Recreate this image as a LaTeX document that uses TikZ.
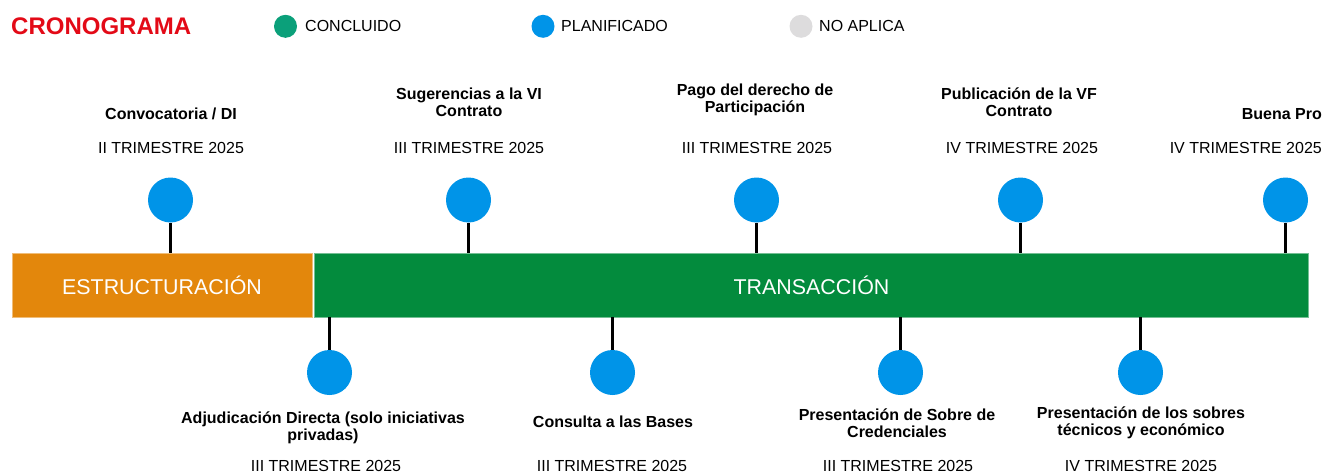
\documentclass[tikz,border=0pt]{standalone}
\usepackage{fontspec}
\setmainfont{Liberation Sans}
\definecolor{titlered}{HTML}{E30A17}
\definecolor{done}{HTML}{0BA07A}
\definecolor{plan}{HTML}{0094E8}
\definecolor{na}{HTML}{DDDCDD}
\definecolor{orangebar}{HTML}{E3870C}
\definecolor{greenbar}{HTML}{038B3D}
\begin{document}
\begin{tikzpicture}[x=1pt,y=-1pt,
  milestone/.style={circle, fill=plan, minimum size=45pt, inner sep=0pt},
  legdot/.style={circle, minimum size=23pt, inner sep=0pt},
  legtxt/.style={anchor=west, inner sep=0pt, font=\fontsize{16}{17}\selectfont},
  stem/.style={line width=2.4pt, black},
  lbl/.style={font=\bfseries\fontsize{16}{17}\selectfont, align=center, inner sep=0pt},
  datelbl/.style={font=\fontsize{16}{17}\selectfont, inner sep=0pt},
  phase/.style={rectangle, minimum height=64pt, inner sep=0pt, text=white, font=\fontsize{21.4}{24}\selectfont}]
\useasboundingbox (0,0) rectangle (1324,474);

% header
\node[anchor=west, inner sep=0pt, text=titlered, font=\bfseries\fontsize{24}{26}\selectfont] (title) at (11,26) {CRONOGRAMA};
\node[legdot, fill=done] (ld1) at (285.5,26.3) {};
\node[legtxt] (lt1) at (305,26) {CONCLUIDO};
\node[legdot, fill=plan] (ld2) at (543,26.3) {};
\node[legtxt] (lt2) at (561,26) {PLANIFICADO};
\node[legdot, fill=na] (ld3) at (801,26.3) {};
\node[legtxt] (lt3) at (819,26) {NO APLICA};

% phase bars
\node[phase, fill=orangebar, draw=orangebar!55, line width=0.6pt, minimum width=300pt] (est) at (162,285) {ESTRUCTURACIÓN};
\node[phase, fill=greenbar, draw=greenbar!55, line width=0.6pt, minimum width=994pt] (tra) at (811.5,285) {TRANSACCIÓN};

% top milestones
\node[milestone] (t1) at (170.5,200) {};
\node[milestone] (t2) at (468.5,200) {};
\node[milestone] (t3) at (756.5,200) {};
\node[milestone] (t4) at (1020.5,200) {};
\node[milestone] (t5) at (1285.5,200) {};
\draw[stem] (t1.south) -- (t1.south |- est.north);
\draw[stem] (t2.south) -- (t2.south |- tra.north);
\draw[stem] (t3.south) -- (t3.south |- tra.north);
\draw[stem] (t4.south) -- (t4.south |- tra.north);
\draw[stem] (t5.south) -- (t5.south |- tra.north);

\node[lbl] (tl1) at (171,114) {Convocatoria / DI};
\node[lbl] (tl2) at (469,102) {Sugerencias a la VI\\Contrato};
\node[lbl] (tl3) at (755,99.5) {Pago del derecho de\\Participación};
\node[lbl] (tl4) at (1019,102) {Publicación de la VF\\Contrato};
\node[lbl, anchor=east] (tl5) at (1322,114) {Buena Pro};

\node[datelbl] (td1) at (171,148) {II TRIMESTRE 2025};
\node[datelbl] (td2) at (469,148) {III TRIMESTRE 2025};
\node[datelbl] (td3) at (757,148) {III TRIMESTRE 2025};
\node[datelbl] (td4) at (1022,148) {IV TRIMESTRE 2025};
\node[datelbl, anchor=east] (td5) at (1322,148) {IV TRIMESTRE 2025};

% bottom milestones
\node[milestone] (b1) at (329.5,372.5) {};
\node[milestone] (b2) at (612.5,372.5) {};
\node[milestone] (b3) at (900.5,372.5) {};
\node[milestone] (b4) at (1140.5,372.5) {};
\draw[stem] (b1.north) -- (b1.north |- tra.south);
\draw[stem] (b2.north) -- (b2.north |- tra.south);
\draw[stem] (b3.north) -- (b3.north |- tra.south);
\draw[stem] (b4.north) -- (b4.north |- tra.south);

\node[lbl] (bl1) at (323,428) {Adjudicación Directa (solo iniciativas\\privadas)};
\node[lbl] (bl2) at (613,422) {Consulta a las Bases};
\node[lbl] (bl3) at (897,423) {Presentación de Sobre de\\Credenciales};
\node[lbl] (bl4) at (1141,423) {Presentación de los sobres\\técnicos y económico};

\node[datelbl] (bd1) at (326,466) {III TRIMESTRE 2025};
\node[datelbl] (bd2) at (612,466) {III TRIMESTRE 2025};
\node[datelbl] (bd3) at (898,466) {III TRIMESTRE 2025};
\node[datelbl] (bd4) at (1141,466) {IV TRIMESTRE 2025};
\end{tikzpicture}
\end{document}
